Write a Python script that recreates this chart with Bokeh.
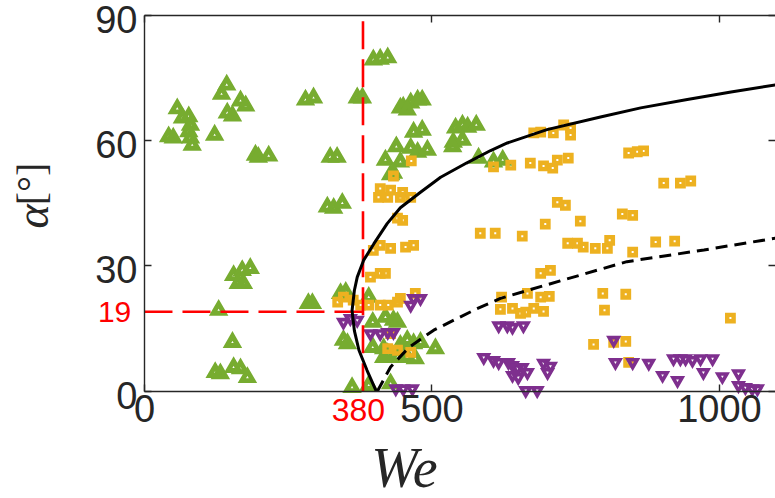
import math

from bokeh.embed import file_html
from bokeh.core.properties import value
from bokeh.models import ColumnDataSource, Label, LinearAxis, FixedTicker
from bokeh.plotting import figure
from bokeh.resources import INLINE

# Stable jets (green up-triangles)
stable_we = [143, 134, 167, 176, 144, 153, 57, 77, 66, 80, 77, 42, 50, 83, 80, 122,
             193, 198, 216, 280, 294, 323, 335, 318, 329, 344, 398, 410, 423, 370, 379,
             450, 463, 475, 483, 445, 457, 468, 483, 541, 553, 562, 577, 537, 553, 536,
             438, 463, 475, 492, 419, 445, 581, 607, 623, 428, 433, 285, 292, 341, 350,
             390, 419, 397, 433, 440, 346, 353, 397, 416, 423, 445, 457, 468, 480, 506,
             416, 440, 457, 471, 361, 390, 428, 155, 170, 184, 163, 172, 129, 153, 123,
             132, 155, 167, 179]
stable_alpha = [73.3, 71.1, 69.5, 68.3, 66.6, 65.9, 67.6, 65.7, 65.4, 63.7, 62.1, 60.9, 60.6,
                58.9, 60.6, 61.3, 56.5, 56.0, 56.3, 69.7, 70.2, 56.0, 56.0, 44.1, 43.8, 45.0,
                79.3, 79.5, 79.8, 70.2, 70.2, 68.0, 69.0, 69.7, 69.7, 67.8, 67.3, 62.0, 62.5,
                63.0, 63.7, 63.2, 63.7, 59.6, 60.1, 58.5, 58.5, 58.2, 57.2, 57.7, 55.3, 54.9,
                55.8, 54.9, 55.3, 51.8, 52.2, 21.0, 21.0, 23.4, 23.7, 22.5, 17.7, 16.5, 17.0,
                16.5, 12.2, 11.4, 10.5, 10.2, 9.0, 11.0, 12.2, 11.4, 11.7, 10.2, 8.1, 8.1,
                8.1, 7.8, 0.9, 1.4, 1.8, 27.7, 28.9, 29.4, 25.8, 25.8, 19.4, 11.7, 4.5, 4.2,
                5.7, 5.4, 3.3]

# Transitional jets (orange squares)
trans_we = [464, 433, 410, 428, 449, 407, 423, 445, 463, 440, 449, 410, 398, 428, 454, 468,
            393, 410, 419, 336, 346, 363, 376, 390, 410, 424, 440, 445, 471, 423, 440, 463,
            428, 584, 610, 657, 677, 689, 711, 729, 741, 741, 607, 637, 671, 694, 710, 718,
            737, 842, 857, 868, 903, 932, 950, 718, 732, 831, 849, 697, 758, 736, 753, 763,
            784, 805, 809, 849, 889, 922, 689, 706, 621, 666, 689, 704, 797, 837, 619, 640,
            654, 663, 677, 694, 800, 781, 816, 837, 1019, 842]
trans_alpha = [55.1, 51.5, 48.5, 48.1, 47.6, 46.4, 46.4, 46.4, 46.4, 41.4, 40.9, 34.9, 33.7,
               34.2, 34.5, 34.9, 27.3, 28.2, 28.2, 21.3, 22.5, 21.8, 20.6, 20.6, 20.6, 20.6,
               21.3, 22.2, 23.4, 10.2, 9.8, 9.3, 13.8, 37.8, 37.8, 37.1, 61.8, 62.0, 61.8,
               63.7, 63.0, 61.3, 53.7, 54.1, 54.6, 53.9, 53.4, 55.3, 55.8, 57.0, 57.3, 57.5,
               49.8, 49.8, 50.3, 45.2, 44.5, 42.4, 42.1, 40.0, 40.7, 35.4, 35.4, 34.5, 34.2,
               34.2, 36.1, 33.3, 35.7, 35.9, 28.2, 28.9, 22.5, 23.4, 22.5, 22.7, 23.4, 23.2,
               19.6, 19.8, 18.6, 18.9, 19.8, 19.1, 19.4, 11.2, 11.7, 11.9, 17.5, 6.9]

# Breakup jets (purple down-triangles)
breakup_we = [468, 480, 463, 346, 358, 370, 393, 410, 423, 433, 437, 450, 466, 616, 631, 640,
              659, 590, 607, 616, 633, 640, 649, 657, 666, 640, 650, 694, 706, 701, 663, 683,
              816, 819, 849, 877, 901, 927, 920, 932, 941, 953, 967, 988, 972, 1005, 1033,
              1033, 1045, 1057, 1066]
breakup_alpha = [22.2, 22.2, 20.6, 16.5, 17.4, 17.0, 13.8, 13.8, 14.1, 14.1, 0.6, 0.6, 0.6,
                 15.7, 15.7, 15.3, 15.7, 8.1, 7.4, 6.9, 6.9, 6.2, 5.5, 5.7, 4.5, 3.8, 3.3,
                 6.7, 6.0, 4.5, 0.2, 0.2, 12.2, 6.9, 6.9, 6.7, 3.8, 2.6, 7.8, 7.8, 7.8, 7.4,
                 7.8, 7.8, 4.5, 3.5, 4.2, 1.4, 0.9, 0.6, 0.6]

# Upper boundary curve (solid)
upper_we = [403, 387, 373, 365, 361, 365, 370, 381, 399, 422, 445, 480, 515, 560, 602, 631,
            700, 793, 863, 944, 1020, 1097]
upper_alpha = [0, 5.0, 9.8, 14.5, 19.3, 24.1, 27.3, 31.3, 35.3, 40.1, 43.9, 47.6, 51.2, 54.6,
               57.6, 59.4, 62.6, 65.6, 67.8, 69.8, 71.6, 73.3]

# Lower boundary curve (dashed)
lower_we = [405, 428, 460, 503, 573, 619, 723, 839, 973, 1097]
lower_alpha = [0, 5.8, 10.5, 14.6, 19.4, 22.2, 26.4, 31.0, 33.8, 36.6]

# Critical point
we_crit = 380
alpha_crit = 19

x_ticks = [0, 500, 1000]
y_ticks = [0, 30, 60, 90]
y_tick_labels = ["0", "30", "60", "90"]
x_max = 1097.4
y_max = 90

AX = "#262626"
GREEN = "#77AC30"
ORANGE = "#EDB120"
PURPLE = "#7E2F8E"
RED = "#FF0000"

# The frame fills the whole canvas; the axes sit at fixed data locations so that
# the titles and the red annotations can live in the margin around the box.
p = figure(width=775, height=498, x_range=(-250.4, x_max), y_range=(-25.68, 93.5),
           output_backend="svg", toolbar_location=None, min_border=0)
p.grid.visible = False
p.outline_line_color = None
p.background_fill_color = "white"
p.border_fill_color = "white"


def style_axis(ax):
    ax.axis_line_color = AX
    ax.axis_line_width = 1.4
    ax.major_tick_line_color = AX
    ax.major_tick_line_width = 1.4
    ax.major_tick_in = 7
    ax.major_tick_out = 0
    ax.minor_tick_line_color = None
    ax.major_label_text_font = "Liberation Sans"
    ax.major_label_text_font_size = "38px"
    ax.major_label_text_color = AX


style_axis(p.xaxis[0])
style_axis(p.yaxis[0])
p.xaxis.ticker = FixedTicker(ticks=x_ticks)
p.yaxis.ticker = FixedTicker(ticks=y_ticks)
p.xaxis.fixed_location = 0
p.yaxis.fixed_location = 0
p.xaxis.bounds = (0, x_max)
p.yaxis.bounds = (0, y_max)
p.xaxis.major_label_standoff = 4
# y tick labels are set a little below their ticks, drawn as text below
p.yaxis.major_label_overrides = {t: "" for t in y_ticks}

# top edge of the box, with inward ticks and no labels
top = LinearAxis(ticker=FixedTicker(ticks=x_ticks), fixed_location=y_max,
                 bounds=(0, x_max), major_label_overrides={t: "" for t in x_ticks})
style_axis(top)
p.add_layout(top, "above")

# right edge of the box (ticks only)
right = LinearAxis(ticker=FixedTicker(ticks=y_ticks), fixed_location=x_max,
                   bounds=(0, y_max), major_label_overrides={t: "" for t in y_ticks})
style_axis(right)
right.axis_line_color = None
p.add_layout(right, "right")

ylab_src = ColumnDataSource(dict(x=[0] * len(y_ticks), y=y_ticks, text=y_tick_labels))
p.text("x", "y", text="text", source=ylab_src, x_offset=-7, y_offset=4,
       text_align="right", text_baseline="middle", text_color=AX,
       text_font=value("Liberation Sans"), text_font_size="38px")

src_s = ColumnDataSource(dict(x=stable_we, y=stable_alpha))
src_t = ColumnDataSource(dict(x=trans_we, y=trans_alpha))
src_b = ColumnDataSource(dict(x=breakup_we, y=breakup_alpha))

p.scatter("x", "y", source=src_s, marker="triangle", size=11, fill_color=None,
          line_color=GREEN, line_width=4.9, line_join="miter")
p.scatter("x", "y", source=src_t, marker="square", size=6.4, fill_color=None,
          line_color=ORANGE, line_width=4.4, line_join="miter")
p.scatter("x", "y", source=src_b, marker="inverted_triangle", size=9, fill_color=None,
          line_color=PURPLE, line_width=3.6, line_join="miter")

# critical-point guides
p.line([we_crit, we_crit], [0, y_max], line_color=RED, line_width=2.6, line_dash="28 10")
p.line([0, we_crit], [alpha_crit, alpha_crit], line_color=RED, line_width=2.6,
       line_dash="28 10")

p.line(upper_we, upper_alpha, line_color="black", line_width=3)
p.line(lower_we, lower_alpha, line_color="black", line_width=3, line_dash="12 7")

p.add_layout(Label(x=we_crit - 8, y=-4.6, text=str(we_crit), text_color=RED,
                   text_font="Liberation Sans", text_font_size="32px",
                   text_align="center", text_baseline="middle"))
p.add_layout(Label(x=-52, y=alpha_crit, text=str(alpha_crit), text_color=RED,
                   text_font="Liberation Sans", text_font_size="30px",
                   text_align="center", text_baseline="middle"))

# axis titles: italic symbols, upright unit brackets
p.add_layout(Label(x=452, y=-18.3, text="We", text_color=AX,
                   text_font="Liberation Serif", text_font_style="italic",
                   text_font_size="56px", text_align="center", text_baseline="middle"))
p.add_layout(Label(x=-195, y=41.8, text="α", text_color=AX, angle=math.pi / 2,
                   text_font="Liberation Serif", text_font_style="italic",
                   text_font_size="46px", text_align="center", text_baseline="middle"))
p.add_layout(Label(x=-196, y=49.6, text="[°]", text_color=AX, angle=math.pi / 2,
                   text_font="Liberation Serif", text_font_size="40px",
                   text_align="center", text_baseline="middle"))

open("out.html", "w").write(file_html(p, INLINE))
